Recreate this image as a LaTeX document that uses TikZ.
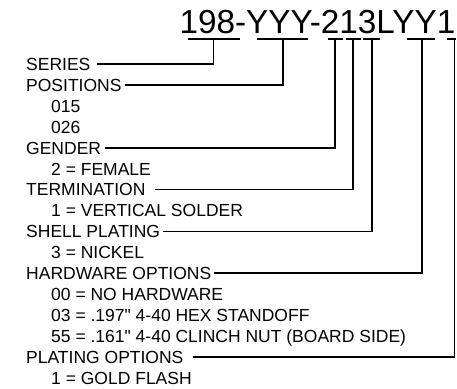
\documentclass[tikz,border=0pt]{standalone}
\usepackage{fontspec}
\setmainfont{Liberation Sans}
\begin{document}
\begin{tikzpicture}[x=1pt,y=-1pt,
  lbl/.style={anchor=base west,inner sep=0pt,text height=12.5pt,text depth=0pt,
    font=\fontsize{17.5}{21}\selectfont},
  conn/.style={line width=1.6pt,line join=miter},
  uline/.style={line width=2.6pt}]
\useasboundingbox (0,0) rectangle (457,388);
\node[anchor=base west,inner sep=0pt,font=\fontsize{33.3}{40}\selectfont] (title) at (179.4,33) {198-YYY-213LYY1};
% underline coordinates
\coordinate (a1) at (188,39); \coordinate (a2) at (240,39); \coordinate (ua) at (213.5,38);
\coordinate (b1) at (257,39); \coordinate (b2) at (308,39); \coordinate (ub) at (283,38);
\coordinate (c1) at (328,39); \coordinate (c2) at (343,39); \coordinate (uc) at (335,38);
\coordinate (d1) at (346,39); \coordinate (d2) at (361,39); \coordinate (ud) at (353,38);
\coordinate (e1) at (363,39); \coordinate (e2) at (380,39); \coordinate (ue) at (372,38);
\coordinate (f1) at (407,39); \coordinate (f2) at (435,39); \coordinate (uf) at (422,38);
\coordinate (g1) at (447,39); \coordinate (g2) at (455.5,39); \coordinate (ug) at (454.5,38);
\foreach \s in {a,b,c,d,e,f,g} \draw[uline] (\s1) -- (\s2);
% labels
\node[lbl] (series)   at (26,70.5)  {SERIES};
\node[lbl] (pos)      at (26,91.4)  {POSITIONS};
\node[lbl] (p015)     at (51,112.3) {015};
\node[lbl] (p026)     at (51,133.2) {026};
\node[lbl] (gender)   at (26,154.1) {GENDER};
\node[lbl] (fem)      at (51,175)   {2 = FEMALE};
\node[lbl] (term)     at (26,195.9) {TERMINATION};
\node[lbl] (vert)     at (51,216.8) {1 = VERTICAL SOLDER};
\node[lbl] (shell)    at (26,237.7) {SHELL PLATING};
\node[lbl] (nick)     at (51,258.6) {3 = NICKEL};
\node[lbl] (hw)       at (26,279.5) {HARDWARE OPTIONS};
\node[lbl] (hw00)     at (51,300.4) {00 = NO HARDWARE};
\node[lbl] (hw03)     at (51,321.3) {03 = .197\textquotedbl{} 4-40 HEX STANDOFF};
\node[lbl] (hw55)     at (51,342.2) {55 = .161\textquotedbl{} 4-40 CLINCH NUT (BOARD SIDE)};
\node[lbl] (plat)     at (26,363.1) {PLATING OPTIONS};
\node[lbl] (gold)     at (51,384)   {1 = GOLD FLASH};
% connectors
\draw[conn] ([xshift=6pt]series.east) -| (ua);
\draw[conn] ([xshift=3pt]pos.east) -| (ub);
\draw[conn] ([xshift=4pt]gender.east) -| (uc);
\draw[conn] ([xshift=9pt]term.east) -| (ud);
\draw[conn] ([xshift=3pt]shell.east) -| (ue);
\draw[conn] ([xshift=3pt]hw.east) -| (uf);
\draw[conn] ([xshift=9pt]plat.east) -| (ug);
\end{tikzpicture}
\end{document}
